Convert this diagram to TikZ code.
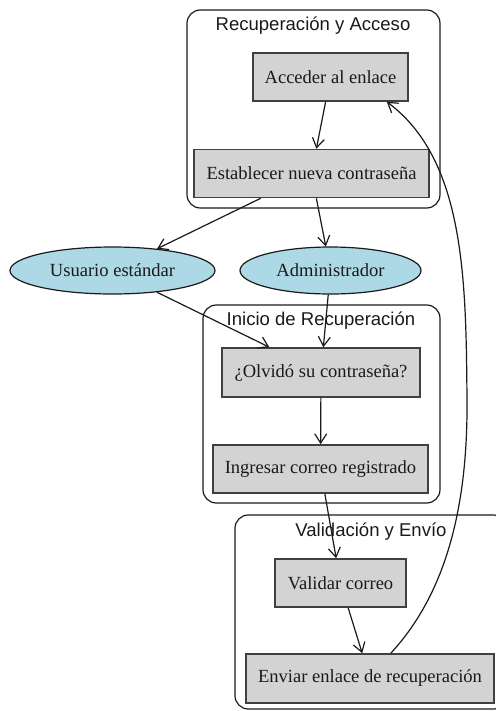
\documentclass[tikz,border=0pt]{standalone}
\usepackage{fontspec}
\setmainfont{Liberation Serif}
\setsansfont{Liberation Sans}
\usetikzlibrary{arrows.meta,shapes.geometric}
\definecolor{boxfill}{HTML}{D3D3D3}
\definecolor{ovalfill}{HTML}{ADD8E6}
\definecolor{boxline}{HTML}{404040}
\definecolor{inkcol}{HTML}{1A1A1A}
\begin{document}
\begin{tikzpicture}[x=0.75pt,y=-0.75pt,
  cluster/.style={draw=inkcol, line width=0.9pt, rounded corners=10pt},
  clustertitle/.style={font=\sffamily\fontsize{13.9}{16}\selectfont, text=inkcol, inner sep=0pt},
  stepbox/.style={draw=boxline, line width=1.2pt, fill=boxfill, text=inkcol,
    font=\fontsize{13.9}{16}\selectfont, inner sep=0pt, minimum width=#1, minimum height=36pt},
  role/.style={ellipse, draw=inkcol, line width=0.9pt, fill=ovalfill, text=inkcol,
    font=\fontsize{13.9}{16}\selectfont, inner sep=0pt, minimum width=#1, minimum height=35.25pt},
  flow/.style={draw=inkcol, line width=0.9pt, -{Straight Barb[length=7pt,width=9pt,line width=0.9pt]}}
]
\useasboundingbox (0,0) rectangle (496,711);

% groups
\draw[cluster] (187,10) rectangle (440,208);
\draw[cluster] (203,305) rectangle (440,503);
\begin{scope}
  \clip (0,0) rectangle (496,711);
  \draw[cluster] (235,515) rectangle (507,709);
\end{scope}
\node[clustertitle] (t1) at (313,26) {Recuperación y Acceso};
\node[clustertitle] (t2) at (321,321) {Inicio de Recuperación};
\node[clustertitle] (t3) at (371,532) {Validación y Envío};

% steps
\node[stepbox=116.25pt] (acc) at (330.5,77) {Acceder al enlace};
\node[stepbox=176.25pt] (est) at (311.5,173.5) {Establecer nueva contraseña};
\node[role=153.75pt] (usu) at (112.5,270.5) {Usuario estándar};
\node[role=135.75pt] (adm) at (330.5,270.5) {Administrador};
\node[stepbox=148.5pt, minimum height=36.75pt] (olv) at (321,372.5) {¿Olvidó su contraseña?};
\node[stepbox=161.25pt] (ing) at (320.5,469) {Ingresar correo registrado};
\node[stepbox=98.25pt] (val) at (340.5,583) {Validar correo};
\node[stepbox=186pt, minimum height=36.75pt] (env) at (370,678.5) {Enviar enlace de recuperación};

% ends of the loop back to the first step
\coordinate (envout) at ([xshift=-78pt]env.north east);
\coordinate (accin) at ([xshift=-16.5pt]acc.south east);

% connectors
\draw[flow] (acc) -- (est);
\draw[flow] (est) -- (usu);
\draw[flow] (est) -- (adm);
\draw[flow] (usu) -- (olv);
\draw[flow] (adm) -- (olv);
\draw[flow] (olv) -- (ing);
\draw[flow] (ing) -- (val);
\draw[flow] (val) -- (env);
\draw[flow] (envout) .. controls (440,600) and (468,520) .. (467,400)
  .. controls (466,280) and (465,160) .. (accin);
\end{tikzpicture}
\end{document}
